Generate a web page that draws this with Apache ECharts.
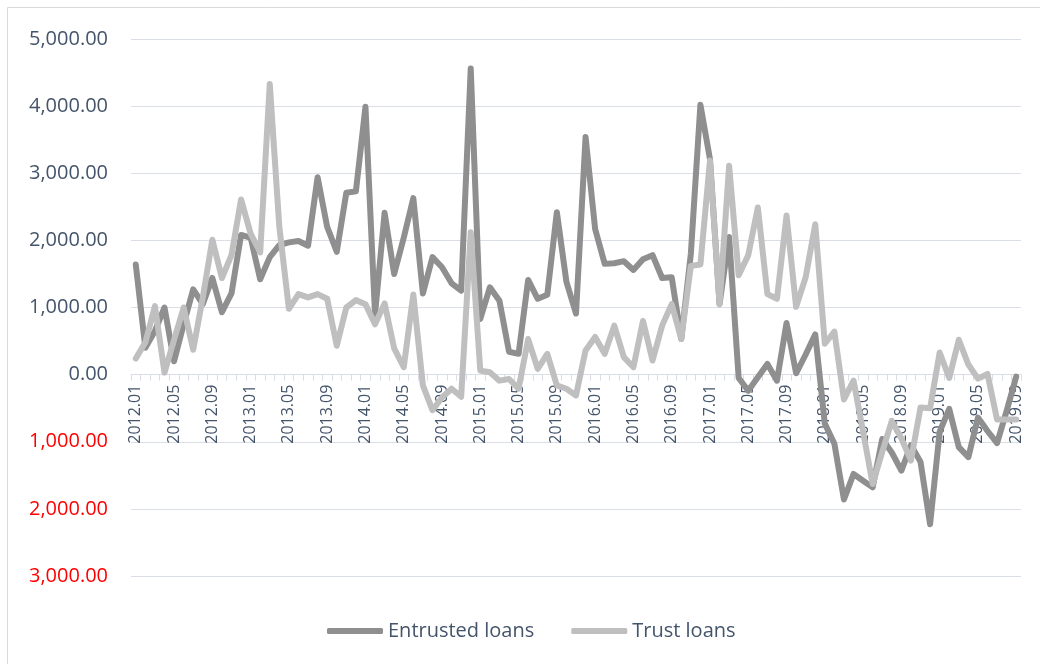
<!DOCTYPE html>
<html>
<head>
<meta charset="utf-8">
<script src="https://cdn.jsdelivr.net/npm/echarts@6/dist/echarts.min.js"></script>
<style>html,body{margin:0;padding:0;background:#fff;}#c{width:1040px;height:664px;}</style>
</head>
<body>
<div id="c"></div>
<script>
// Months 2012.01 - 2019.09
var categories = [];
for (var y = 2012; y <= 2019; y++) {
  for (var m = 1; m <= 12; m++) {
    if (y === 2019 && m > 9) break;
    categories.push(y + '.' + (m < 10 ? '0' + m : m));
  }
}

var entrustedLoans = [
  1640, 400, 650, 1000, 200, 750, 1270, 1050, 1440, 930, 1210, 2080,
  2040, 1420, 1750, 1930, 1970, 1990, 1920, 2940, 2200, 1830, 2710, 2730,
  3990, 900, 2410, 1500, 2040, 2630, 1210, 1750, 1600, 1360, 1250, 4560,
  830, 1300, 1100, 340, 310, 1410, 1130, 1190, 2420, 1380, 910, 3540,
  2170, 1650, 1660, 1690, 1560, 1720, 1780, 1440, 1450, 530, 1800, 4020,
  3210, 1050, 2050, -50, -240, -40, 160, -90, 770, 20, 300, 600,
  -730, -1030, -1860, -1480, -1580, -1680, -960, -1160, -1430, -1050, -1300, -2230,
  -850, -510, -1080, -1230, -640, -840, -1020, -540, -30
];

var trustLoans = [
  240, 480, 1020, 30, 520, 1000, 370, 1150, 2010, 1440, 1780, 2610,
  2100, 1820, 4330, 2200, 980, 1200, 1150, 1200, 1130, 430, 1000, 1110,
  1050, 750, 1060, 390, 110, 1195, -160, -530, -340, -210, -330, 2120,
  60, 35, -90, -65, -210, 530, 85, 310, -160, -210, -310, 360,
  560, 310, 730, 260, 110, 800, 210, 730, 1050, 530, 1620, 1640,
  3190, 1050, 3110, 1480, 1780, 2490, 1200, 1130, 2370, 1010, 1450, 2240,
  460, 640, -370, -90, -850, -1630, -1150, -690, -950, -1280, -490, -500,
  330, -50, 520, 150, -60, 10, -670, -670, -670
];

var seriesNames = ['Entrusted loans', 'Trust loans'];
var yMin = -3000, yMax = 5000, yStep = 1000;

var chart = echarts.init(document.getElementById('c'), null, {renderer: 'canvas'});
var textColor = '#44546A';
var gridColor = '#D9DEE7';
var font = 'Open Sans';

// grid geometry
var gridTop = 39, gridBottom = 88, chartH = 664;
var plotH = chartH - gridTop - gridBottom;
// move category axis up to the zero line of the value axis
var zeroOffset = -plotH * (0 - yMin) / (yMax - yMin);

chart.setOption({
  animation: false,
  backgroundColor: '#ffffff',
  graphic: [{
    type: 'rect',
    shape: {x: 7.5, y: 7.5, width: 1100, height: 700},
    style: {fill: 'none', stroke: '#D9D9D9', lineWidth: 1},
    silent: true
  }],
  grid: {left: 131, right: 19, top: gridTop, bottom: gridBottom, containLabel: false},
  legend: {
    left: 322, top: 616,
    itemWidth: 56, itemHeight: 6, itemGap: 37,
    icon: 'roundRect',
    textStyle: {color: textColor, fontSize: 20, fontFamily: font},
    data: seriesNames
  },
  xAxis: {
    type: 'category',
    data: categories,
    boundaryGap: true,
    position: 'bottom',
    offset: zeroOffset,
    axisLine: {onZero: false, lineStyle: {color: gridColor, width: 1}},
    axisTick: {show: true, interval: 0, length: 6, lineStyle: {color: gridColor}},
    axisLabel: {
      interval: 3, rotate: 90, margin: 10,
      color: textColor, fontSize: 16, fontFamily: font
    },
    splitLine: {show: false}
  },
  yAxis: {
    type: 'value',
    min: yMin, max: yMax, interval: yStep,
    axisLine: {show: false},
    axisTick: {show: false},
    axisLabel: {
      margin: 23,
      fontSize: 20, fontFamily: font,
      color: function (v) { return Number(v) < 0 ? '#FF0000' : textColor; },
      formatter: function (v) {
        return Math.abs(v).toLocaleString('en-US', {minimumFractionDigits: 2, maximumFractionDigits: 2});
      }
    },
    splitLine: {lineStyle: {color: gridColor, width: 1}}
  },
  series: [
    {
      name: seriesNames[0], type: 'line', data: entrustedLoans,
      showSymbol: false, symbol: 'none',
      itemStyle: {color: '#8F8F8F'},
      lineStyle: {color: '#8F8F8F', width: 6, join: 'round', cap: 'round'}
    },
    {
      name: seriesNames[1], type: 'line', data: trustLoans,
      showSymbol: false, symbol: 'none',
      itemStyle: {color: '#BFBFBF'},
      lineStyle: {color: '#BFBFBF', width: 6, join: 'round', cap: 'round'}
    }
  ]
});
</script>
</body>
</html>
